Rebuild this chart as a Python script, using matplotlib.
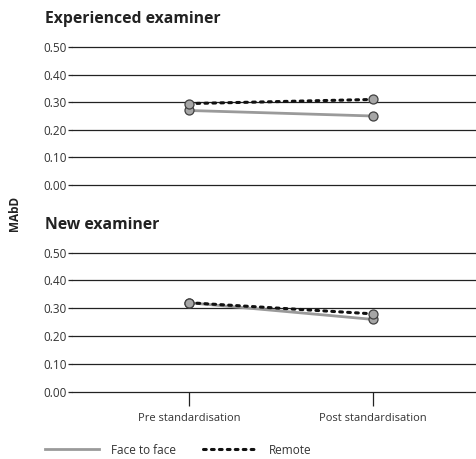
import matplotlib
matplotlib.use("Agg")
import matplotlib.pyplot as plt
from matplotlib.lines import Line2D

plt.rcParams['font.family'] = ['Open Sans', 'DejaVu Sans']

stages = ["Pre standardisation", "Post standardisation"]
yticks = [0.0, 0.1, 0.2, 0.3, 0.4, 0.5]

exp_face = [0.27, 0.25]
exp_remote = [0.295, 0.31]
new_face = [0.32, 0.26]
new_remote = [0.32, 0.28]

panels = [
    ("Experienced examiner", exp_face, exp_remote),
    ("New examiner", new_face, new_remote),
]

W, H = 477, 459
fig = plt.figure(figsize=(W / 100, H / 100), dpi=100)

left = 72 / W
width = 1 - left
axes_px = [(47, 185), (252.7, 391.7)]  # top / bottom pixel rows of each plot area

face_color = "#9a9a9a"
dotted = (0, (0.9, 1.7))
marker_kw = dict(marker="o", markersize=6.5, markerfacecolor="#a6a6a6",
                 markeredgecolor="#404040", markeredgewidth=0.9)

x = list(range(len(stages)))
for (title, face, remote), (top_px, bot_px) in zip(panels, axes_px):
    ax = fig.add_axes([left, 1 - bot_px / H, width, (bot_px - top_px) / H])
    ax.set_ylim(0, 0.5)
    ax.set_xlim(-0.636, 1.565)
    for yv in yticks:
        ax.axhline(yv, color="#222222", lw=0.9, zorder=1, clip_on=False)
    ax.plot(x, face, color=face_color, lw=2.0, zorder=3, **marker_kw)
    ax.plot(x, remote, color="#111111", lw=2.2, linestyle=dotted,
            dash_capstyle="round", zorder=4, **marker_kw)
    ax.set_yticks(yticks)
    ax.set_yticklabels([f"{v:.2f}" for v in yticks], fontsize=8.5, color="#333333")
    ax.tick_params(axis="y", length=3, width=0.9, color="#222222", pad=1)
    for s in ax.spines.values():
        s.set_visible(False)
    ax.set_xticks(x)
    ax.set_xticklabels([])
    ax.tick_params(axis="x", length=0)
    fig.text(45 / W, 1 - (top_px - 28) / H, title, fontsize=11.3, fontweight="bold",
             color="#222222", va="center", ha="left")

# category ticks and labels under the lower plot
ax.tick_params(axis="x", length=10, width=0.9, color="#222222", direction="out", pad=5)
ax.set_xticklabels(stages, fontsize=8, color="#333333")

fig.text(15 / W, 1 - 213 / H, "MAbD", rotation=90, fontsize=8.5, fontweight="bold",
         color="#222222", va="center", ha="center")

handles = [
    Line2D([], [], color=face_color, lw=2.0),
    Line2D([], [], color="#111111", lw=2.2, linestyle=dotted, dash_capstyle="round"),
]
fig.legend(handles, ["Face to face", "Remote"], loc="center left",
           bbox_to_anchor=(40 / W, 1 - 450 / H), ncol=2, frameon=False, fontsize=8.5,
           handlelength=4.6, columnspacing=2.3, handletextpad=1.0, labelcolor="#333333",
           borderaxespad=0)

fig.savefig("out.png", dpi=100)
